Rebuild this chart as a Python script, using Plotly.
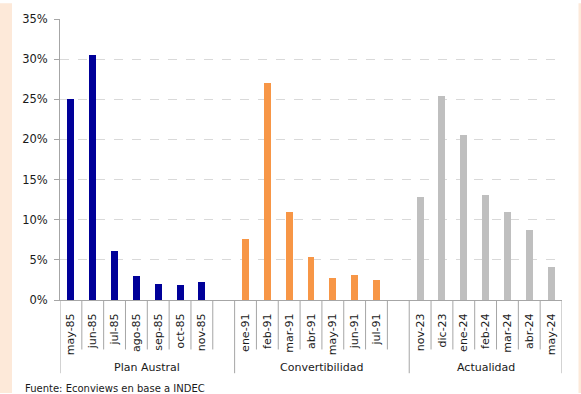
import plotly.graph_objects as go

# ---- data ----
groups = ["Plan Austral", "Convertibilidad", "Actualidad"]
cats_austral = ["may-85", "jun-85", "jul-85", "ago-85", "sep-85", "oct-85", "nov-85"]
vals_austral = [25.0, 30.5, 6.1, 3.0, 2.0, 1.9, 2.3]
cats_convert = ["ene-91", "feb-91", "mar-91", "abr-91", "may-91", "jun-91", "jul-91"]
vals_convert = [7.6, 27.0, 11.0, 5.4, 2.7, 3.1, 2.5]
cats_actual = ["nov-23", "dic-23", "ene-24", "feb-24", "mar-24", "abr-24", "may-24"]
vals_actual = [12.8, 25.4, 20.6, 13.1, 11.0, 8.7, 4.1]
colors = ["#000099", "#F79646", "#BFBFBF"]
y_ticks = [0, 5, 10, 15, 20, 25, 30, 35]
y_ticktext = ["0%", "5%", "10%", "15%", "20%", "25%", "30%", "35%"]
source = "Fuente: Econviews en base a INDEC"

# slots: each group followed by one blank slot (except last)
series = [(cats_austral, vals_austral), (cats_convert, vals_convert), (cats_actual, vals_actual)]
positions = []
start = 0
group_bounds = []
for i, (c, v) in enumerate(series):
    pos = list(range(start, start + len(c)))
    positions.append(pos)
    n = len(c) + (1 if i < len(series) - 1 else 0)
    group_bounds.append((start - 0.5, start + n - 0.5))
    start += n
n_slots = start

W, H = 581, 394
ml, mr, mt, mb = 60, 19, 16, 94
ph = H - mt - mb
pw = W - ml - mr
FONT = "DejaVu Sans"
TXT = "#1a1a1a"
AX = "#A6A6A6"

fig = go.Figure()
for (c, v), pos, col in zip(series, positions, colors):
    fig.add_trace(go.Bar(x=pos, y=v, marker=dict(color=col, line=dict(width=0)),
                         width=0.32, showlegend=False, hoverinfo="skip"))

tickvals = [p for pos in positions for p in pos]
ticktext = [c for c, _ in series for c in c]

shapes = []
def px_x(p):
    return (p - ml) / pw
def px_y(p):
    return 1 - (p - mt) / ph
# peach side strips
for x0, x1 in [(0, 12), (578.5, W)]:
    shapes.append(dict(type="rect", xref="paper", yref="paper", x0=px_x(x0), x1=px_x(x1),
                       y0=px_y(H), y1=px_y(0), fillcolor="#FDE9D9", line=dict(width=0), layer="below"))
# category separators
bounds = set()
for a, b in group_bounds:
    bounds.add(a); bounds.add(b)
for k in range(n_slots + 1):
    xv = k - 0.5
    long_ = xv in bounds
    shapes.append(dict(type="line", xref="x", yref="paper", x0=xv, x1=xv, y0=0,
                       y1=px_y(374 if long_ else 350), line=dict(color=AX, width=1)))

annotations = []
for g, (a, b) in zip(groups, group_bounds):
    annotations.append(dict(text=g, x=(a + b) / 2, xref="x", y=px_y(368), yref="paper",
                            showarrow=False, xanchor="center", yanchor="middle",
                            font=dict(family=FONT, size=11, color=TXT)))
annotations.append(dict(text=source, x=px_x(23), xref="paper", y=px_y(389), yref="paper",
                        showarrow=False, xanchor="left", yanchor="middle",
                        font=dict(family=FONT, size=10, color=TXT)))

fig.update_layout(
    width=W, height=H, margin=dict(l=ml, r=mr, t=mt, b=mb),
    paper_bgcolor="white", plot_bgcolor="white",
    shapes=shapes, annotations=annotations, bargap=0,
    xaxis=dict(range=[-0.5, n_slots - 0.5], tickvals=tickvals, ticktext=ticktext,
               tickangle=-90, showline=True, linecolor=AX, linewidth=1, showgrid=False,
               zeroline=False, ticks="", ticklabelstandoff=8,
               tickfont=dict(family=FONT, size=11, color=TXT)),
    yaxis=dict(range=[0, 35], tickvals=y_ticks, ticktext=y_ticktext, showline=True, linecolor=AX,
               linewidth=1, showgrid=True, gridcolor="#D9D9D9", griddash="dash", zeroline=False,
               ticks="outside", ticklen=5, tickcolor=AX, ticklabelstandoff=4,
               tickfont=dict(family=FONT, size=11.5, color=TXT)),
)
fig.write_html("out.html")
